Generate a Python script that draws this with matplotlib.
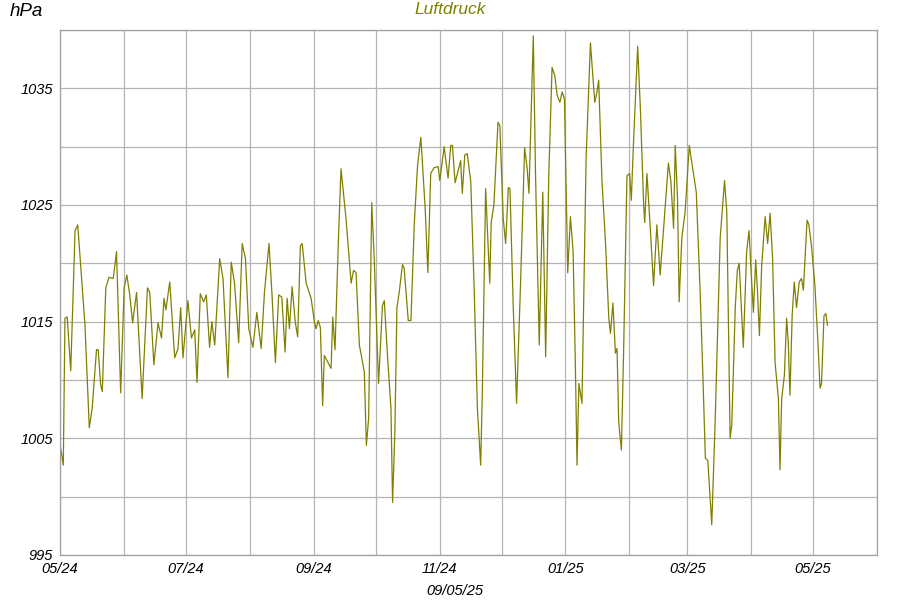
import matplotlib
matplotlib.use('Agg')
import matplotlib.pyplot as plt
import matplotlib.dates as mdates
import pandas as pd
import numpy as np

plt.rcParams['font.family'] = ['Liberation Sans', 'DejaVu Sans']

# Tage seit 01.05.2024 und Luftdruck in hPa
tage = [0.1, 1.6, 2.4, 3.5, 5.2, 7.3, 8.6, 10.5, 12.1, 14.2, 15.6, 17.7, 18.5, 19.7, 20.5,
        22.2, 23.7, 25.8, 27.4, 29.4, 31.1, 32.4, 33.8, 35.2, 37.1, 39.8, 42.4, 43.5, 45.5,
        47.5, 49.2, 50.4, 51.3, 53.2, 55.6, 57.2, 58.5, 59.6, 62.0, 63.7, 65.3, 66.4, 68.0,
        69.6, 70.9, 72.5, 73.6, 75.0, 77.4, 79.0, 81.4, 83.0, 84.6, 86.6, 88.3, 89.9, 91.5,
        93.5, 95.4, 97.5, 99.1, 101.3, 102.7, 104.4, 106.0, 107.5, 109.1, 110.1, 111.2,
        112.5, 114.0, 115.2, 116.5, 117.4, 119.3, 121.7, 123.3, 124.1, 125.2, 126.2, 127.3,
        128.1, 131.4, 132.2, 133.3, 134.9, 136.2, 138.6, 141.1, 142.3, 143.5, 145.1, 147.5,
        148.5, 149.6, 151.1, 152.3, 154.4, 156.3, 157.2, 158.8, 160.4, 161.2, 162.3, 163.3,
        164.4, 166.0, 166.8, 168.8, 170.1, 171.7, 173.3, 174.9, 177.0, 178.3, 179.7, 181.3,
        183.3, 184.1, 186.2, 188.1, 189.4, 190.2, 191.5, 194.2, 195.0, 196.2, 197.4, 199.1,
        200.7, 202.3, 203.9, 204.7, 206.3, 208.3, 209.0, 210.3, 212.3, 213.2, 214.8, 216.0,
        217.3, 218.1, 219.7, 221.3, 223.2, 225.2, 226.4, 227.3, 229.4, 230.5, 232.3, 234.0,
        235.4, 236.9, 238.5, 239.8, 241.0, 242.3, 243.4, 244.5, 246.1, 247.4, 248.7, 249.8,
        250.6, 251.5, 253.0, 255.0, 257.1, 259.2, 260.3, 261.1, 262.7, 264.4, 266.0, 266.8,
        268.0, 269.2, 270.0, 270.8, 272.1, 273.2, 274.8, 276.1, 276.9, 278.0, 280.0, 281.3,
        282.9, 283.4, 284.5, 286.1, 287.7, 289.3, 290.9, 294.9, 296.1, 297.4, 298.2, 299.3,
        300.1, 301.4, 303.0, 305.0, 306.2, 308.4, 310.3, 311.6, 312.8, 314.0, 315.1, 315.9,
        317.5, 320.0, 322.1, 323.2, 324.8, 325.6, 327.3, 328.3, 329.2, 330.4, 331.2, 332.8,
        334.0, 335.0, 336.1, 337.2, 338.0, 339.0, 340.1, 341.8, 343.0, 344.2, 345.4, 346.6,
        348.2, 349.0, 349.8, 351.1, 352.2, 353.0, 353.8, 354.9, 355.9, 357.0, 358.3, 359.4,
        360.3, 362.1, 363.0, 364.3, 365.9, 367.2, 368.4, 369.1, 370.3, 371.2, 372.0]
druck = [1004.4, 1002.7, 1015.3, 1015.4, 1010.8, 1022.8, 1023.3, 1018.7, 1014.7, 1005.9,
         1007.6, 1012.6, 1012.6, 1009.6, 1009.0, 1017.9, 1018.8, 1018.7, 1021.0, 1008.9,
         1017.9, 1019.0, 1017.3, 1014.9, 1017.5, 1008.4, 1017.9, 1017.5, 1011.3, 1014.9,
         1013.6, 1017.0, 1016.0, 1018.4, 1011.9, 1012.7, 1016.2, 1011.9, 1016.8, 1013.6,
         1014.3, 1009.8, 1017.4, 1016.7, 1017.3, 1012.8, 1015.0, 1013.0, 1020.4, 1018.7,
         1010.2, 1020.1, 1018.3, 1013.2, 1021.7, 1020.4, 1014.4, 1012.8, 1015.8, 1012.7,
         1017.5, 1021.7, 1017.5, 1011.5, 1017.3, 1017.1, 1012.4, 1017.0, 1014.4, 1018.0,
         1015.0, 1013.7, 1021.5, 1021.7, 1018.3, 1017.0, 1015.0, 1014.4, 1015.1, 1014.5,
         1007.8, 1012.1, 1011.0, 1015.4, 1012.6, 1021.8, 1028.1, 1023.9, 1018.3, 1019.4,
         1019.2, 1013.0, 1010.7, 1004.4, 1006.7, 1025.2, 1020.4, 1009.7, 1016.4, 1016.8,
         1011.9, 1007.6, 999.5, 1005.5, 1016.2, 1017.5, 1019.9, 1019.6, 1015.1, 1015.1,
         1023.3, 1028.4, 1030.8, 1024.7, 1019.2, 1027.7, 1028.2, 1028.3, 1027.1, 1030.0,
         1027.3, 1030.1, 1030.1, 1026.9, 1028.8, 1026.0, 1029.3, 1029.4, 1027.0, 1018.1,
         1007.6, 1002.7, 1009.0, 1026.4, 1018.3, 1023.5, 1025.0, 1032.1, 1031.8, 1023.9,
         1021.7, 1026.5, 1026.4, 1016.2, 1008.0, 1018.1, 1029.9, 1028.2, 1026.0, 1039.5,
         1027.5, 1013.0, 1026.1, 1012.0, 1027.5, 1036.8, 1036.1, 1034.4, 1033.8, 1034.7,
         1034.1, 1019.2, 1024.0, 1021.0, 1011.3, 1002.7, 1009.7, 1008.0, 1029.0, 1038.9,
         1033.8, 1034.7, 1035.7, 1027.0, 1021.8, 1015.3, 1014.0, 1016.6, 1012.3, 1012.7,
         1006.4, 1004.0, 1012.6, 1027.5, 1027.7, 1025.4, 1030.4, 1038.6, 1033.3, 1025.0,
         1023.5, 1027.7, 1023.0, 1018.1, 1023.3, 1019.0, 1028.6, 1027.0, 1023.0, 1030.1,
         1025.6, 1016.7, 1022.2, 1024.4, 1030.1, 1028.7, 1026.1, 1017.5, 1010.4, 1003.3,
         1003.1, 999.9, 997.6, 1006.1, 1022.2, 1027.1, 1024.4, 1005.0, 1006.1, 1016.2,
         1019.4, 1020.0, 1015.6, 1012.8, 1021.0, 1022.8, 1019.2, 1015.8, 1020.3, 1017.9,
         1013.8, 1019.8, 1024.0, 1021.7, 1024.3, 1020.4, 1011.5, 1008.4, 1002.3, 1008.4,
         1010.4, 1015.3, 1013.2, 1008.7, 1015.6, 1018.4, 1016.2, 1018.4, 1018.7, 1017.7,
         1023.7, 1023.3, 1021.4, 1018.1, 1013.8, 1009.3, 1009.7, 1015.5, 1015.7, 1014.7]

y_beschriftet = [995, 1005, 1015, 1025, 1035]
y_grid = [1000, 1010, 1020, 1030, 1040]

start = pd.Timestamp('2024-05-01')
datum = start + pd.to_timedelta(np.array(tage), unit='D')

fig = plt.figure(figsize=(9, 6), dpi=100)
ax = fig.add_axes([60 / 900, 45 / 600, 817 / 900, 525 / 600])

ax.plot(datum, druck, color='#808000', linewidth=0.9)

ax.set_ylim(995, 1040)
ax.set_xlim(start, pd.Timestamp('2025-06-01'))

# Achsen und Gitter
ax.set_yticks(y_beschriftet)
ax.set_yticks(y_grid, minor=True)
ax.xaxis.set_major_locator(mdates.MonthLocator(bymonth=[1, 3, 5, 7, 9, 11]))
ax.xaxis.set_minor_locator(mdates.MonthLocator(bymonth=[2, 4, 6, 8, 10, 12]))
ax.xaxis.set_major_formatter(mdates.DateFormatter('%m/%y'))
ax.grid(True, which='both', color='#b4b4b4', linewidth=0.9)
ax.tick_params(which='both', length=0)
ax.tick_params(axis='y', pad=5, labelsize=10.5)
ax.tick_params(axis='x', pad=5, labelsize=10.5)
for lbl in ax.get_xticklabels() + ax.get_yticklabels():
    lbl.set_fontstyle('italic')
for s in ax.spines.values():
    s.set_color('#a0a0a0')
    s.set_linewidth(0.9)

fig.text(0.5, 1 - 10 / 600, 'Luftdruck', color='#808000', fontsize=12.5,
         style='italic', ha='center', va='center')
fig.text(10 / 900, 1 - 12 / 600, 'hPa', fontsize=13.5, style='italic',
         ha='left', va='center')
fig.text(455 / 900, 1 - 591 / 600, '09/05/25', fontsize=10.5, style='italic',
         ha='center', va='center')

fig.savefig('out.png', dpi=100)
